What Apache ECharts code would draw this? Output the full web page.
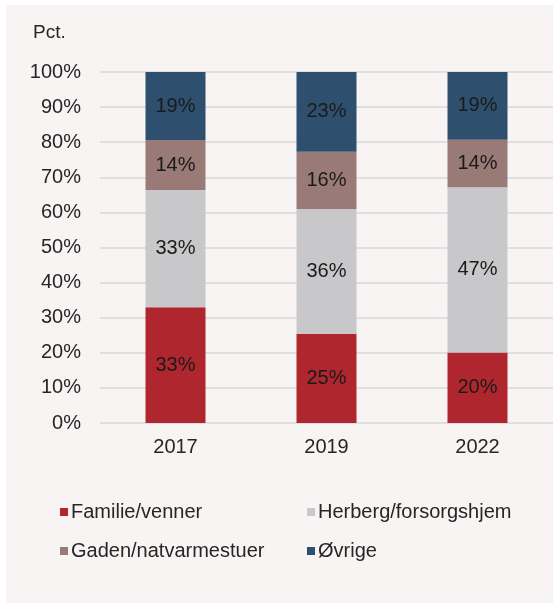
<!DOCTYPE html>
<html>
<head>
<meta charset="utf-8">
<script src="https://cdn.jsdelivr.net/npm/echarts@6/dist/echarts.min.js"></script>
<style>
  html, body { margin: 0; padding: 0; background: #fff; }
</style>
</head>
<body>
<div id="chart" style="width:553px;height:603px;"></div>
<script>
// år og boformer
var years = ['2017', '2019', '2022']
var familie = [33, 25.4, 20.1]
var herberg = [33.4, 35.6, 47.1]
var gaden = [14.2, 16.3, 13.5]
var oevrige = [19.4, 22.7, 19.3]
var yTicks = [0, 10, 20, 30, 40, 50, 60, 70, 80, 90, 100]

var font = 'Liberation Sans, Arial, sans-serif'

function seg (name, data, color) {
  return {
    name: name,
    type: 'bar',
    stack: 'total',
    data: data,
    barWidth: 60,
    itemStyle: { color: color },
    label: {
      show: true,
      position: 'inside',
      color: '#1a1a1a',
      fontSize: 20,
      fontFamily: font,
      formatter: function (p) { return Math.round(p.value) + '%' }
    }
  }
}

var legendText = { fontSize: 20, fontFamily: font, color: '#262626', padding: [0, 0, 0, -2] }

var chart = echarts.init(document.getElementById('chart'))
var option = {
  backgroundColor: '#fff',
  animation: false,
  graphic: [
    { type: 'rect', left: 6, top: 5, shape: { width: 547, height: 598 }, style: { fill: '#f8f4f3' }, z: -10 },
    { type: 'text', left: 33, top: 23, style: { text: 'Pct.', fontSize: 19, fontFamily: font, fill: '#262626' } }
  ],
  grid: { left: 100, right: 0, top: 72, bottom: 180 },
  legend: [{
    data: ['Familie/venner', 'Gaden/natvarmestuer'],
    orient: 'vertical',
    left: 55,
    top: 497,
    itemWidth: 8,
    itemHeight: 8,
    itemGap: 19,
    icon: 'rect',
    textStyle: legendText
  }, {
    data: ['Herberg/forsorgshjem', 'Øvrige'],
    orient: 'vertical',
    left: 302,
    top: 497,
    itemWidth: 8,
    itemHeight: 8,
    itemGap: 19,
    icon: 'rect',
    textStyle: legendText
  }],
  xAxis: {
    type: 'category',
    data: years,
    axisLine: { show: false },
    axisTick: { show: false },
    axisLabel: { fontSize: 20, fontFamily: font, color: '#262626', margin: 14 }
  },
  yAxis: {
    type: 'value',
    min: yTicks[0],
    max: yTicks[yTicks.length - 1],
    interval: 10,
    axisLine: { show: false },
    axisTick: { show: false },
    splitLine: { lineStyle: { color: '#d9d9d9', width: 1.5 } },
    axisLabel: { fontSize: 20, fontFamily: font, color: '#262626', margin: 19, formatter: '{value}%' }
  },
  series: [
    seg('Familie/venner', familie, '#b0262e'),
    seg('Herberg/forsorgshjem', herberg, '#c8c8ca'),
    seg('Gaden/natvarmestuer', gaden, '#9a7a76'),
    seg('Øvrige', oevrige, '#2e506e')
  ]
}
chart.setOption(option)
</script>
</body>
</html>
